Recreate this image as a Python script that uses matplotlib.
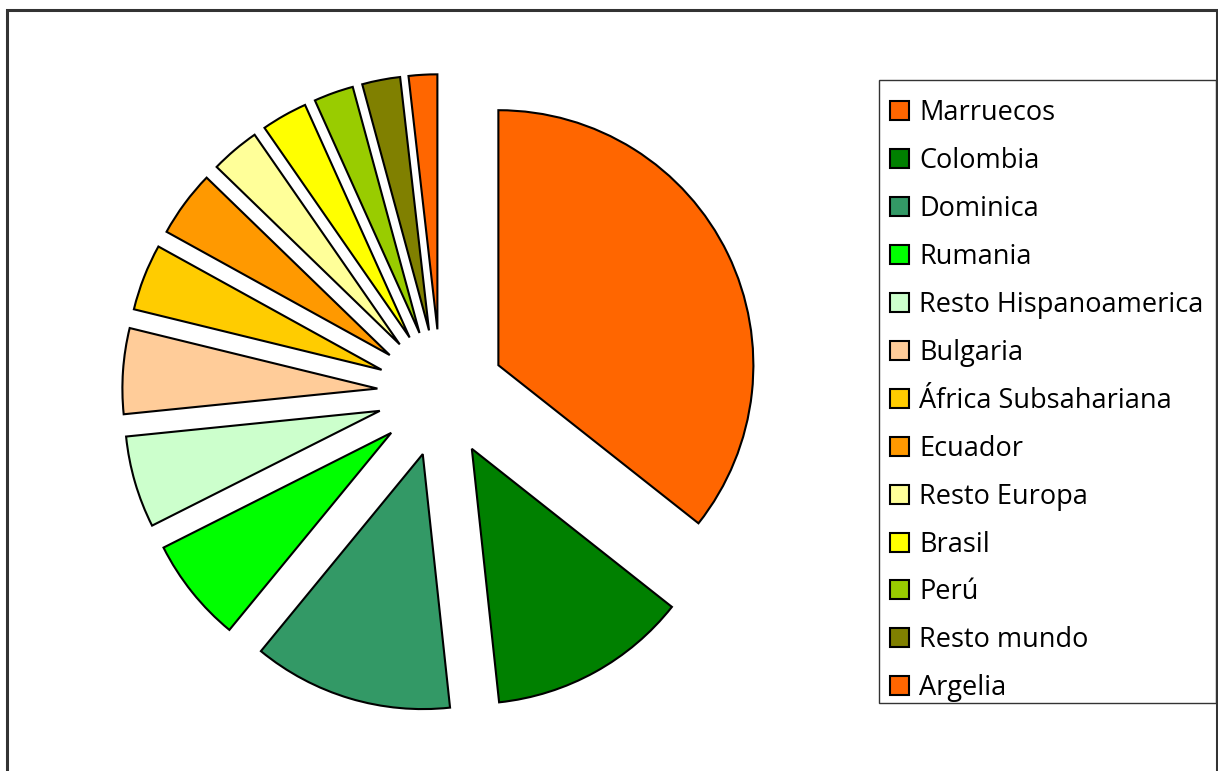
import matplotlib
matplotlib.use("Agg")
import matplotlib.pyplot as plt
from matplotlib.patches import Rectangle

categories = ["Marruecos", "Colombia", "Dominica", "Rumania", "Resto Hispanoamerica",
              "Bulgaria", "África Subsahariana", "Ecuador", "Resto Europa", "Brasil",
              "Perú", "Resto mundo", "Argelia"]
values = [35.5, 12.6, 12.6, 6.6, 5.8, 5.4, 4.2, 4.2, 3.1, 2.9, 2.5, 2.4, 1.8]
colors = ["#FF6600", "#008000", "#339966", "#00FF00", "#CCFFCC", "#FFCC99", "#FFCC00",
          "#FF9900", "#FFFF99", "#FFFF00", "#99CC00", "#808000", "#FF6600"]

W, H = 1218, 771
fig = plt.figure(figsize=(W / 100, H / 100), dpi=100)

# outer frame
fig.patches.append(Rectangle((7 / W, -0.01), (1217 - 7) / W, (H - 10) / H + 0.01,
                             transform=fig.transFigure, fill=False, edgecolor="#333333",
                             linewidth=2.2, zorder=0))
# legend frame
fig.patches.append(Rectangle((879 / W, 1 - 703 / H), (1216 - 879) / W, (703 - 80) / H,
                             transform=fig.transFigure, fill=False, edgecolor="#333333",
                             linewidth=1.0, zorder=1))

cx, cy, R, half = 441, 393, 255, 330
ax = fig.add_axes([(cx - half) / W, (H - cy - half) / H, 2 * half / W, 2 * half / H])
wedges, _ = ax.pie(values, colors=colors, startangle=90, counterclock=False,
                   explode=[0.25] * len(values), radius=1.0,
                   wedgeprops=dict(edgecolor="black", linewidth=1.5))
lim = half / R
ax.set_xlim(-lim, lim)
ax.set_ylim(-lim, lim)
ax.set_aspect("equal")
ax.axis("off")

leg = fig.legend(wedges, categories, loc="upper left",
                 bbox_to_anchor=(879 / W, 1 - 88 / H),
                 prop={"family": "Open Sans", "size": 19.5},
                 frameon=False,
                 handlelength=0.7, handleheight=0.7, handletextpad=0.36,
                 labelspacing=0.735, borderpad=0.42, borderaxespad=0)
for h in leg.legend_handles:
    h.set_linewidth(1.5)

fig.savefig("out.png", dpi=100)
